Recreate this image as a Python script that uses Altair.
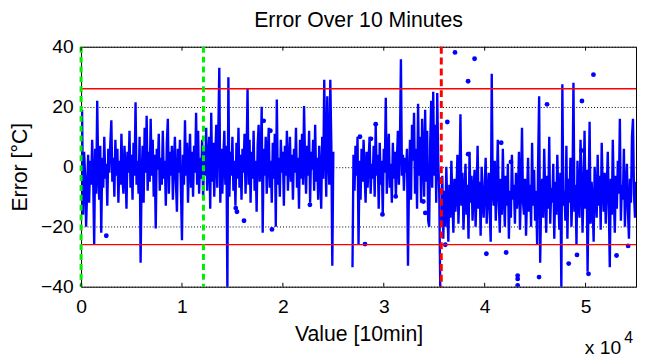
import altair as alt
import pandas as pd

# ---- data ----
STEP = 100

seg_a_start = 0
seg_a = [
    8, 19, -16, 5, -3, -20, -8, 4, -12, 2,
    -6, 9, -4, -26, 6, -9, 22, -2, -11, 7,
    -22, 3, -7, 10, -4, 1, -13, 6, -2, 8,
    15.5, -5, 3, -10, 9, -3, 6, -12, 2, -6,
    11, -4, -9, 7, 0, -14, 5, -2, 12, -7,
    4, -11, 8, -3, 21.5, -6, 2, -9, 10, -32,
    -4, 7, -12, 13, -2, 17, -8, 5, -5, 16,
    -3, 9, -10, 4, -20.6, 6, -1, 11, -8, 3,
    -6, 12, -4, 2, -13, 8, 16, -9, 5, -3,
    7, -11, 1, 10, -5, -15, 6, -2, 9, -8,
    -24.5, 4, -6, 15.5, -3, 8, -12, 2, 11, -7,
    5, -10, 7, -2, 18, -6, 12, -9, 3, -4,
    9, -11, 6, -3, 13, -8, 2, 10, -14, 18,
    -5, 8, -10, 4, 14, -7, 11, 33, -12, 6,
    -9, 3, 12, -6, 7, -41, 29.8, -10, 5, -3,
    10, -8, 2, -13, 8, -4, 13, -7, 4, -11,
    6, -2, 11, -9, 3, 26, -6, 9, -12, 5,
    -4, 12, -8, 2, -15, 7, 14, -5, 1, 20,
    -22, 6, -3, 10, -9, 4, 13, -7, 2, -12,
    8, -4, 11, -20, 22.4, -6, 3, -10, 9, -2,
    5, -13, 7, -3, 12, -8, 1, 10, -5, 4,
    -11, 6, -2, 13, -7, 3, -14, 9, -4, 11,
    -6, 20.2, 2, -9, 7, -3, 12, -12, 5, -1,
    9, -8, 14, -5, 3, -11, 7, -2, -14, 10,
    -4, 29, 6, -10, 23.5, 4, -6, 29, 8, -33,
    5,
]

seg_b_start = 26900
seg_b = [
    -33.5,
    4, -8, 7, -3, 10, -26, 2, -11, 6, -5,
    9, -2, -12, 5, -7, 3, 10, -9, 1, -4,
    7, -10, 14, -3, 4, -14, 8, -6, 2, -16,
    6, -2, 23, -9, 3, 11, -7, 1, -12, 8,
    -4, 5, -10, 2, 12, -6, 7, 35.8, -3, 4,
    -8, 3, -2, 6, -33, -5, 9, -11, 14, 2,
    18, -9, 6, -14, 21, -3, 10, -12, 16, 4,
    -10, 19, -5, 12, -18, -20, 8, 22, -7, 25,
    -3, 14, -12, 24.6, 2, -9, -41,
]

seg_c_start = 35700
seg_c = [
    -18, -3, -24,
    -8, -20, 0, -14, -25, -6, -17, 2, -11, -22,
    -4, -15, -9, 4, -19, -7, 17.5, -13, -2, -21,
    -10, 1, -16, -6, -24, 5, -12, -3, -18, -8,
    -1, -20, -9, 7, -14, -5, -23, 0, -11, -17,
    -6, 3, -19, -10, -2, -15, -25, 31, -8, -13,
    2, -18, -7, 9, -12, -22, -4, -16, 6, -9,
    -20, -3, -13, 1, -24, -8, -17, 4, -11, -6,
    -19, -2, -14, -9, 5, -21, -7, 13, -12, -16,
    -4, -23, -10, 3, -15, -6, -20, 8, -13, -1,
    -18, -8, -26, 2, 23.5, -32, -11, -4, -17, 6,
    -9, -22, -3, -14, 10, -19, -7, -12, 1, -24,
    -5, -16, 4, -10, -21, -2, -41, 27.5, -13, -8,
    -18, 7, -24, -4, -12, 3, -20, -9, 28, -15,
    -6, -26, 2, -11, -17, 9, -3, -22, -8, 12,
    -14, -1, -35, -10, 15, -19, -5, -12, -25, 0,
    -9, -17, 4, -13, -3, -21, 8, -7, -15, -2,
    -19, -8, 5, -12, -33.5, -4, -16, 9, -10, -22,
    -3, -14, 2, -9, 16, -18, -6, -11, 6, -20,
    -7, 1, -15, -24, -4, -12, 10, 16, -9, -17,
    -5,
]

dot_x = [2500, 15330, 15450, 16150, 18100, 18760, 18920, 22680,
         27640, 28140, 28730, 29200, 29870, 31180, 33920, 34120,
         36100, 36300, 37060, 38360, 38360, 39000, 40170, 41640, 42130,
         42610, 43270, 43270, 43270, 45390, 46180, 48330, 49150,
         49640, 49600, 50290, 50780, 53070, 54220]
dot_y = [-23, -13.8, -15, -18, 15.3, 12, -20.9, -12.7,
         10, -25.8, 9.3, 14.2, -15.9, -9.9, -11.6, -15.4,
         -26, 14.9, 38.1, 28.5, 4.2, 36, -29, 8, -28.6,
         1.6, -36.3, -37.4, -39.6, -36.8, 20.8, -32.3, -29.4,
         21.9, 5.4, -35.7, 30.7, -29.6, -26.4]

limit_y = [26, -26]
green_x = [0, 12130]
red_x = [35700]
tick_x = [0, 10000, 20000, 30000, 40000, 50000]
y_ticks = [-40, -20, 0, 20, 40]

# ---- build tables ----
rows = []
for seg, start, vals in [("a", seg_a_start, seg_a), ("b", seg_b_start, seg_b), ("c", seg_c_start, seg_c)]:
    for i, v in enumerate(vals):
        rows.append({"x": start + i * STEP, "y": v, "seg": seg})
line_df = pd.DataFrame(rows)
dot_df = pd.DataFrame({"x": dot_x, "y": dot_y})

FONT = "Liberation Sans"
LAB = 19.5
TIT = 21.5
xs = alt.Scale(domain=[0, 55000], nice=False, zero=False)
ys = alt.Scale(domain=[-40, 40], nice=False, zero=False)

x_axis = alt.Axis(values=tick_x, labelExpr="datum.value / 10000", tickSize=0, domain=False,
                  grid=False, labelPadding=11, labelFlush=False, labelBound=False,
                  title="Value [10min]", titlePadding=8,
                  labelFont=FONT, titleFont=FONT, labelFontSize=LAB, titleFontSize=TIT,
                  titleFontWeight="normal", labelColor="black", titleColor="black")
y_axis = alt.Axis(values=y_ticks, tickSize=0, domain=False, grid=True, gridDash=[1, 2],
                  gridColor="black", gridOpacity=1, gridWidth=1, labelPadding=8,
                  labelFlush=False, labelBound=False,
                  title="Error [°C]", titlePadding=9,
                  labelFont=FONT, titleFont=FONT, labelFontSize=LAB, titleFontSize=TIT,
                  titleFontWeight="normal", labelColor="black", titleColor="black")

line = alt.Chart(line_df).mark_line(color="#0000FF", strokeWidth=2.4, clip=True).encode(
    x=alt.X("x:Q", scale=xs, axis=x_axis),
    y=alt.Y("y:Q", scale=ys, axis=y_axis),
    detail="seg:N",
    order="x:Q",
)

dots = alt.Chart(dot_df).mark_circle(color="#0000FF", size=24, opacity=1, clip=True).encode(
    x=alt.X("x:Q", scale=xs), y=alt.Y("y:Q", scale=ys)
)

hlines = alt.Chart(pd.DataFrame({"y": limit_y})).mark_rule(color="#FF0000", strokeWidth=1.3).encode(
    y=alt.Y("y:Q", scale=ys)
)

green = alt.Chart(pd.DataFrame({"x": green_x})).mark_rule(
    color="#00EE00", strokeWidth=3, strokeDash=[6, 4]).encode(x=alt.X("x:Q", scale=xs))

red = alt.Chart(pd.DataFrame({"x": red_x})).mark_rule(
    color="#FF0000", strokeWidth=3, strokeDash=[7, 4]).encode(x=alt.X("x:Q", scale=xs))

tick_df = pd.DataFrame({"x": tick_x * 2,
                        "y": [-40] * len(tick_x) + [40] * len(tick_x),
                        "y2": [-38.7] * len(tick_x) + [38.7] * len(tick_x)})
ticks = alt.Chart(tick_df).mark_rule(color="black", strokeWidth=1).encode(
    x=alt.X("x:Q", scale=xs), y=alt.Y("y:Q", scale=ys), y2="y2:Q")

exp_df = pd.DataFrame({"x": [55000], "y": [-40]})
exp_base = alt.Chart(exp_df).mark_text(text="x 10", font=FONT, fontSize=LAB, align="right",
                                       baseline="alphabetic", dx=-15, dy=68, color="black").encode(
    x=alt.X("x:Q", scale=xs), y=alt.Y("y:Q", scale=ys))
exp_pow = alt.Chart(exp_df).mark_text(text="4", font=FONT, fontSize=16, align="left",
                                      baseline="alphabetic", dx=-12, dy=57, color="black").encode(
    x=alt.X("x:Q", scale=xs), y=alt.Y("y:Q", scale=ys))

chart = alt.layer(line, dots, hlines, green, red, ticks, exp_base, exp_pow).properties(
    width=562, height=243,
    title=alt.TitleParams("Error Over 10 Minutes", font=FONT, fontSize=TIT, fontWeight="normal",
                          color="black", offset=5),
    autosize=alt.AutoSizeParams(type="none"),
    padding={"left": 74, "top": 37, "right": 1, "bottom": 73},
    background="white",
).configure_view(stroke="black", strokeWidth=1)

chart.save("out.html", embed_options={"renderer": "svg", "actions": False})
